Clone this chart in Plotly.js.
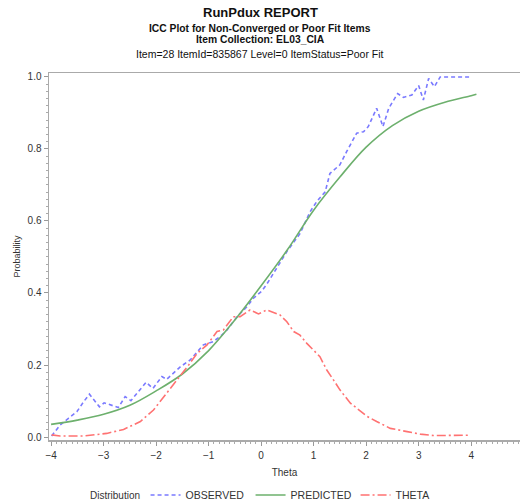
<!DOCTYPE html>
<html>
<head>
<meta charset="utf-8">
<script src="https://cdn.plot.ly/plotly-3.0.1.min.js"></script>
<style>html,body{margin:0;padding:0;background:#fff;}#chart{width:521px;height:503px;}</style>
</head>
<body>
<div id="chart"></div>
<script>
// ---- Data ----
const obsTheta = [-3.99,-3.83,-3.67,-3.51,-3.38,-3.27,-3.08,-2.99,-2.72,-2.59,-2.48,-2.19,-2.06,-1.89,-1.80,-1.54,-1.35,-1.16,-1.10,-0.91,-0.75,-0.65,-0.46,-0.27,-0.15,0.01,0.11,0.30,0.49,0.74,0.87,0.93,1.06,1.22,1.31,1.50,1.63,1.82,1.95,2.04,2.20,2.32,2.43,2.60,2.71,2.87,3.00,3.09,3.19,3.30,3.41,3.97];
const observed = [0.003,0.033,0.052,0.070,0.098,0.119,0.084,0.095,0.082,0.112,0.101,0.152,0.135,0.168,0.160,0.195,0.214,0.245,0.256,0.265,0.283,0.297,0.334,0.362,0.385,0.405,0.425,0.470,0.515,0.565,0.605,0.625,0.654,0.681,0.732,0.756,0.793,0.844,0.848,0.862,0.913,0.862,0.913,0.954,0.943,0.950,0.976,0.936,0.996,0.973,1.0,1.0];

const predTheta = [-4,-3.5,-3,-2.5,-2,-1.5,-1,-0.5,0,0.5,1,1.5,2,2.5,3,3.5,4,4.1];
const predicted = [0.035,0.047,0.063,0.088,0.128,0.175,0.240,0.325,0.420,0.520,0.630,0.722,0.805,0.865,0.905,0.930,0.948,0.952];

const distTheta = [-3.99,-3.83,-3.38,-2.94,-2.62,-2.30,-2.05,-1.80,-1.54,-1.38,-1.22,-1.03,-0.84,-0.72,-0.53,-0.40,-0.21,-0.05,0.11,0.36,0.49,0.62,0.74,0.87,1.12,1.25,1.38,1.50,1.70,1.82,2.01,2.20,2.46,2.78,3.03,3.28,3.66,3.98];
const thetaDist = [0.006,0.003,0.003,0.010,0.021,0.043,0.075,0.121,0.172,0.200,0.232,0.256,0.293,0.297,0.334,0.334,0.353,0.342,0.353,0.339,0.320,0.293,0.283,0.260,0.223,0.186,0.158,0.131,0.094,0.080,0.058,0.043,0.024,0.015,0.008,0.004,0.004,0.005];

const xTicks = [-4,-3,-2,-1,0,1,2,3,4];
const yTicks = [0,0.2,0.4,0.6,0.8,1.0];
const yTickText = ['0.0','0.2','0.4','0.6','0.8','1.0'];

const titleLines = ['RunPdux REPORT','ICC Plot for Non-Converged or Poor Fit Items','Item Collection: EL03_CIA','Item=28 ItemId=835867 Level=0 ItemStatus=Poor Fit'];
const legendTitle = 'Distribution';

const FONT = 'Liberation Sans, Arial, sans-serif';

const traces = [
  {x: obsTheta, y: observed, name: 'OBSERVED', type: 'scatter', mode: 'lines',
   line: {color: '#7a7aff', width: 1.6, dash: '4px,3px'}},
  {x: predTheta, y: predicted, name: 'PREDICTED', type: 'scatter', mode: 'lines',
   line: {color: '#6db06d', width: 1.6, shape: 'spline'}},
  {x: distTheta, y: thetaDist, name: 'THETA', type: 'scatter', mode: 'lines',
   line: {color: '#ff7272', width: 1.6, dash: '9px,3px,2px,3px'}}
];

const sizes = [13, 10.3, 10.3, 10.5];
const ys = [1.166, 1.122, 1.090, 1.053];
const annotations = titleLines.map((t, i) => ({
  text: i < 3 ? '<b>' + t + '</b>' : t,
  xref: 'paper', yref: 'paper', x: 0.448, y: ys[i],
  xanchor: 'center', yanchor: 'middle', showarrow: false,
  font: {family: FONT, size: sizes[i], color: '#111'}
}));
annotations.push({
  text: legendTitle, xref: 'paper', yref: 'paper', x: 0.0828, y: -0.1499,
  xanchor: 'left', yanchor: 'middle', showarrow: false,
  font: {family: FONT, size: 10, color: '#333'}
});

const layout = {
  width: 521, height: 503,
  margin: {l: 49, r: 1, t: 73, b: 63, autoexpand: false},
  paper_bgcolor: '#fff', plot_bgcolor: '#fff',
  font: {family: FONT, size: 10, color: '#333'},
  showlegend: true,
  legend: {orientation: 'h', x: 0.205, y: -0.15, xanchor: 'left', yanchor: 'middle',
           font: {size: 10.5, color: '#333'}, itemwidth: 30, entrywidth: 60, tracegroupgap: 0},
  xaxis: {range: [-4.04, 4.93], tickvals: xTicks, ticks: 'outside', ticklen: 4, automargin: false,
          tickcolor: '#999', showline: true, linecolor: '#aaa', linewidth: 1.5,
          mirror: true, showgrid: false, zeroline: false, ticklabelstandoff: 1,
          minor: {dtick: 0.1, ticks: 'outside', ticklen: 2, tickcolor: '#aaa', showgrid: false},
          tickfont: {size: 10, color: '#333'},
          title: {text: 'Theta', font: {size: 10, color: '#333'}, standoff: 9}},
  yaxis: {range: [-0.0083, 1.011], tickvals: yTicks, ticktext: yTickText, ticks: 'outside', ticklen: 4, automargin: false,
          tickcolor: '#999', showline: true, linecolor: '#aaa', linewidth: 1.5,
          mirror: false, showgrid: false, zeroline: false,
          minor: {dtick: 0.02, ticks: 'outside', ticklen: 2, tickcolor: '#aaa', showgrid: false},
          tickfont: {size: 10, color: '#333'},
          title: {text: 'Probability', font: {size: 9, color: '#333'}, standoff: 5}},
  annotations: annotations
};

Plotly.newPlot('chart', traces, layout, {displayModeBar: false, staticPlot: true});
</script>
</body>
</html>
